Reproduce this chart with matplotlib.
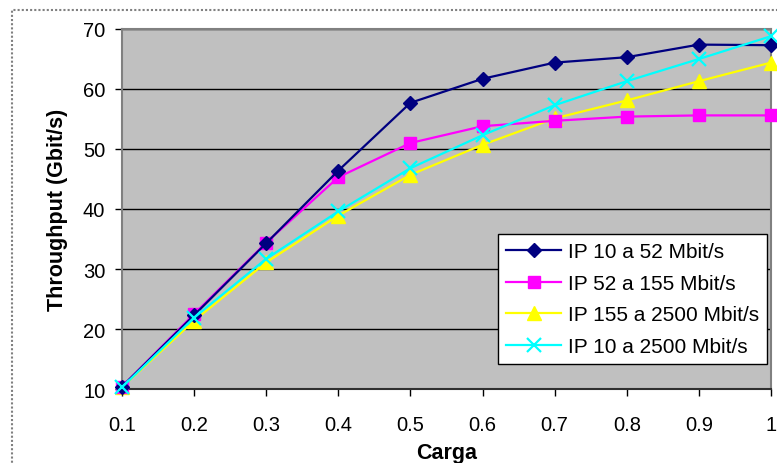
import numpy as np
import matplotlib
matplotlib.use("Agg")
import matplotlib.pyplot as plt
from matplotlib.patches import Rectangle

plt.rcParams['font.family'] = ['Liberation Sans', 'DejaVu Sans']

# load values
carga = [0.1, 0.2, 0.3, 0.4, 0.5, 0.6, 0.7, 0.8, 0.9, 1.0]
ip_10_52 = [10.4, 22.3, 34.3, 46.4, 57.7, 61.7, 64.4, 65.3, 67.4, 67.3]
ip_52_155 = [10.4, 22.5, 34.4, 45.3, 51.0, 53.8, 54.7, 55.4, 55.6, 55.6]
ip_155_2500 = [10.3, 21.4, 31.1, 38.9, 45.7, 50.7, 55.1, 58.1, 61.3, 64.4]
ip_10_2500 = [10.3, 21.9, 31.7, 39.6, 46.8, 52.3, 57.3, 61.3, 65.0, 68.8]
labels = ["IP 10 a 52 Mbit/s", "IP 52 a 155 Mbit/s",
          "IP 155 a 2500 Mbit/s", "IP 10 a 2500 Mbit/s"]
xtick_labels = ["0.1", "0.2", "0.3", "0.4", "0.5", "0.6", "0.7", "0.8", "0.9", "1"]

W, H = 777, 464
fig = plt.figure(figsize=(W / 100, H / 100), dpi=100)
ax = fig.add_axes([122 / W, 1 - 390 / H, 649 / W, 360 / H])
ax.set_facecolor("#C0C0C0")

# chart area border (dotted, cut off at right/bottom)
fig.patches.append(Rectangle((12 / W, -0.1), 1.2, 1 - 11 / H + 0.1,
                             transform=fig.transFigure, fill=False,
                             edgecolor="#808080", linestyle=(0, (1, 1)), lw=1.5))

ax.plot(carga, ip_10_52, color="#000080", lw=1.6, marker="D", ms=7.5,
        label=labels[0], clip_on=False, zorder=5)
ax.plot(carga, ip_52_155, color="#FF00FF", lw=1.6, marker="s", ms=8.5,
        label=labels[1], clip_on=False, zorder=4)
ax.plot(carga, ip_155_2500, color="#FFFF00", lw=1.6, marker="^", ms=10,
        label=labels[2], clip_on=False, zorder=3)
ax.plot(carga, ip_10_2500, color="#00FFFF", lw=1.6, marker="x", ms=10, mew=1.6,
        label=labels[3], clip_on=False, zorder=6)

ax.set_xlim(0.1, 1.0)
ax.set_ylim(10, 70)
ax.set_xticks(carga)
ax.set_xticklabels(xtick_labels)
ax.set_yticks(np.arange(10, 71, 10))
ax.yaxis.grid(True, color="black", lw=1)
ax.set_axisbelow(True)

ax.tick_params(axis="both", labelsize=14.5, direction="out", length=5, width=1)
ax.tick_params(axis="x", pad=13.5)
ax.tick_params(axis="y", pad=7)

for s in ["top", "right", "left"]:
    ax.spines[s].set_color("#808080")
    ax.spines[s].set_linewidth(1.5)
ax.spines["bottom"].set_color("#303030")
ax.spines["bottom"].set_linewidth(1.5)

ax.set_xlabel("Carga", fontsize=15.5, fontweight="bold", labelpad=6)
ax.set_ylabel("Throughput (Gbit/s)", fontsize=15.5, fontweight="bold", labelpad=11)

leg = ax.legend(loc="lower right", bbox_to_anchor=(0.994, 0.069), borderaxespad=0,
                fontsize=15, frameon=True, fancybox=False, shadow=False,
                handlelength=2.65, handletextpad=0.3, labelspacing=0.6,
                borderpad=0.4)
leg.get_frame().set_edgecolor("black")
leg.get_frame().set_linewidth(1)
leg.get_frame().set_alpha(1)

plt.savefig("out.png", dpi=100)
plt.close()
